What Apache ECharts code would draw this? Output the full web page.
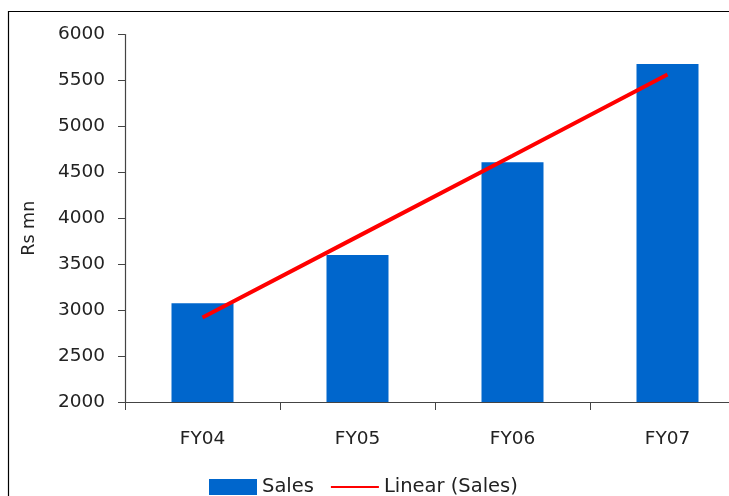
<!DOCTYPE html>
<html>
<head>
<meta charset="utf-8">
<style>
  html, body { margin: 0; padding: 0; background: #fff; overflow: hidden; width: 729px; height: 496px; }
  #chart { width: 745px; height: 496px; }
</style>
<script src="https://cdn.jsdelivr.net/npm/echarts@6/dist/echarts.min.js"></script>
</head>
<body>
<div id="chart"></div>
<script>
// Sales by fiscal year (Rs mn)
const categories = ['FY04', 'FY05', 'FY06', 'FY07'];
const salesValues = [3075, 3600, 4610, 5680];
// Linear trend line through the sales bars
const trendValues = [2920, 3800, 4680, 5565];
const yTicks = { min: 2000, max: 6000, interval: 500 };

const FONT = 'DejaVu Sans';
const TEXT = '#222';
const chart = echarts.init(document.getElementById('chart'));

chart.setOption({
  animation: false,
  backgroundColor: '#ffffff',
  textStyle: { fontFamily: FONT },
  // outer frame: only its left and top edges fall inside the view
  graphic: [
    {
      type: 'line',
      shape: { x1: 8.5, y1: 11, x2: 8.5, y2: 496 },
      style: { stroke: '#000', lineWidth: 1.2 },
      silent: true
    },
    {
      type: 'line',
      shape: { x1: 8, y1: 11.5, x2: 735, y2: 11.5 },
      style: { stroke: '#000', lineWidth: 1.2 },
      silent: true
    }
  ],
  grid: { left: 125, right: 0, top: 34.5, bottom: 94, containLabel: false },
  legend: {
    left: 204,
    top: 472,
    itemWidth: 48,
    itemHeight: 16,
    itemGap: 16,
    textStyle: { fontFamily: FONT, fontSize: 19.5, color: TEXT },
    data: [
      { name: 'Sales', icon: 'rect' },
      { name: 'Linear (Sales)', itemStyle: { opacity: 0 } }
    ]
  },
  xAxis: {
    type: 'category',
    data: categories,
    axisLine: { show: true, lineStyle: { color: '#444', width: 1.2 } },
    axisTick: { show: true, length: 8, lineStyle: { color: '#444' } },
    axisLabel: { margin: 28, fontSize: 18.5, color: TEXT, fontFamily: FONT }
  },
  yAxis: {
    type: 'value',
    min: yTicks.min,
    max: yTicks.max,
    interval: yTicks.interval,
    name: 'Rs mn',
    nameLocation: 'middle',
    nameGap: 87,
    nameRotate: 90,
    nameTextStyle: { fontSize: 17.5, color: TEXT, fontFamily: FONT, padding: [0, 20, 0, 0] },
    splitLine: { show: false },
    axisLine: { show: true, lineStyle: { color: '#444', width: 1.2 } },
    axisTick: { show: true, length: 7, lineStyle: { color: '#444' } },
    axisLabel: {
      margin: 20, fontSize: 18.5, color: TEXT, fontFamily: FONT,
      formatter: function (v) { return String(v); }
    }
  },
  series: [
    {
      name: 'Sales',
      type: 'bar',
      data: salesValues,
      barWidth: 62,
      itemStyle: { color: '#0066CC' }
    },
    {
      name: 'Linear (Sales)',
      type: 'line',
      data: trendValues,
      symbol: 'none',
      lineStyle: { color: '#FF0000', width: 4 },
      itemStyle: { color: '#FF0000' },
      z: 5
    }
  ]
});
</script>
</body>
</html>
